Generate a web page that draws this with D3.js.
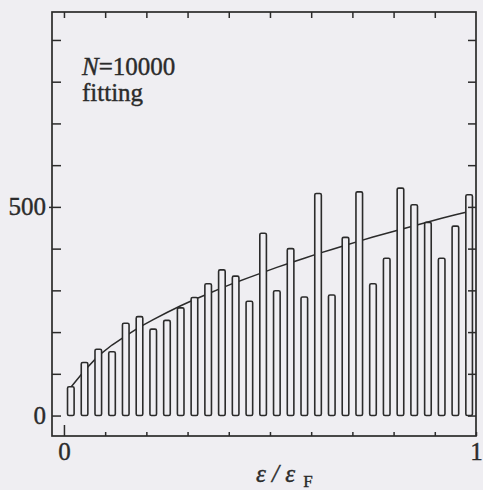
<!DOCTYPE html>
<html>
<head>
<meta charset="utf-8">
<script src="https://cdn.jsdelivr.net/npm/d3@7"></script>
<style>
  body { margin: 0; background: #efeef2; }
  svg { display: block; }
  .serif { font-family: "Liberation Serif", "Times New Roman", serif; fill: #2b2b2b; stroke: #2b2b2b; stroke-width: 0.4px; }
</style>
</head>
<body>
<div id="chart"></div>
<script>
// histogram of levels, 30 bins on 0..1 (eps / eps_F)
var nBins = 30;
var counts = [69, 127, 159, 153, 221, 237, 207, 228, 258, 283,
              316, 349, 334, 274, 437, 299, 400, 284, 532, 289,
              427, 536, 316, 377, 545, 505, 463, 377, 454, 529];
// fitting curve, read at each bin centre
var fitValues = [68, 108, 143, 169, 191, 212, 230, 247, 263, 278,
                 292, 306, 319, 331, 343, 355, 366, 377, 388, 398,
                 408, 418, 428, 437, 446, 455, 464, 473, 481, 489];
var xTicks = [0, 0.1, 0.2, 0.3, 0.4, 0.5, 0.6, 0.7, 0.8, 0.9, 1];
var xLabels = {0: "0", 1: "1"};
var yTicks = [0, 100, 200, 300, 400, 500, 600, 700, 800, 900];
var yLabels = {0: "0", 500: "500"};

var w = 483, h = 490;
var ink = "#2b2b2b";
var bg = "#efeef2";

// plot frame in pixels
var frameL = 52, frameR = 476, frameT = 12, frameB = 436;

var xScale = d3.scaleLinear().domain([-0.029, 1]).range([frameL, frameR]);
var yScale = d3.scaleLinear().domain([-49, 967]).range([frameB, frameT]);

var svg = d3.select("#chart")
  .append("svg")
  .attr("width", w)
  .attr("height", h);

svg.append("rect")
  .attr("width", w).attr("height", h)
  .attr("fill", bg);

// fitting curve goes under the bars
var bins = counts.map(function(c, i) {
  return {x: (i + 0.5) / nBins, count: c, fit: fitValues[i]};
});

var line = d3.line()
  .x(function(d) { return xScale(d.x); })
  .y(function(d) { return yScale(d.fit); });

svg.append("path")
  .datum(bins)
  .attr("d", line)
  .attr("fill", "none")
  .attr("stroke", ink)
  .attr("stroke-width", 1.5);

// narrow outlined bars, roughly half a bin wide
var barW = 0.48 / nBins;
svg.selectAll("rect.bar")
  .data(bins)
  .enter()
  .append("rect")
  .attr("class", "bar")
  .attr("x", function(d) { return xScale(d.x - barW / 2); })
  .attr("y", function(d) { return yScale(d.count); })
  .attr("width", xScale(barW) - xScale(0))
  .attr("height", function(d) { return yScale(0) - yScale(d.count); })
  .attr("rx", 1.5)
  .attr("fill", bg)
  .attr("stroke", ink)
  .attr("stroke-width", 1.6);

// axes, ticks point inward
var fmtX = function(d) { return xLabels[d] || ""; };
var fmtY = function(d) { return yLabels[d] || ""; };

var gBottom = svg.append("g")
  .attr("transform", "translate(0," + frameB + ")")
  .call(d3.axisBottom(xScale).tickValues(xTicks).tickSizeInner(-4).tickSizeOuter(0)
    .tickPadding(6).tickFormat(fmtX));
gBottom.selectAll(".tick line").filter(function(d) { return d === 0; }).attr("y2", -11);

var gTop = svg.append("g")
  .attr("transform", "translate(0," + frameT + ")")
  .call(d3.axisTop(xScale).tickValues(xTicks.slice(0, 10)).tickSizeInner(-6).tickSizeOuter(0)
    .tickFormat(""));

var gLeft = svg.append("g")
  .attr("transform", "translate(" + frameL + ",0)")
  .call(d3.axisLeft(yScale).tickValues(yTicks).tickSizeInner(-9).tickSizeOuter(0)
    .tickPadding(6).tickFormat(fmtY));
gLeft.selectAll(".tick line").filter(function(d) { return d === 500; })
  .attr("x1", -3);

var gRight = svg.append("g")
  .attr("transform", "translate(" + frameR + ",0)")
  .call(d3.axisRight(yScale).tickValues(yTicks).tickSizeInner(-8).tickSizeOuter(0)
    .tickFormat(""));

[gBottom, gTop, gLeft, gRight].forEach(function(g) {
  g.select(".domain").remove();
  g.selectAll(".tick line").attr("stroke", ink).attr("stroke-width", 1.5);
  g.selectAll(".tick text")
    .attr("class", "serif")
    .attr("fill", ink)
    .style("font-size", "25px");
});

// frame
svg.append("rect")
  .attr("x", frameL).attr("y", frameT)
  .attr("width", frameR - frameL).attr("height", frameB - frameT)
  .attr("fill", "none")
  .attr("stroke", ink)
  .attr("stroke-width", 1.7);

// annotations
var t1 = svg.append("text")
  .attr("class", "serif")
  .attr("x", 82).attr("y", 75)
  .style("font-size", "25px");
t1.append("tspan").style("font-style", "italic").text("N");
t1.append("tspan").text("=10000");

svg.append("text")
  .attr("class", "serif")
  .attr("x", 82).attr("y", 101)
  .style("font-size", "25px")
  .text("fitting");

// x axis title
var xt = svg.append("text")
  .attr("class", "serif")
  .attr("x", 256).attr("y", 482)
  .style("font-size", "25px")
  .style("font-style", "italic");
xt.append("tspan").text("ε / ε");
xt.append("tspan")
  .attr("dx", 8).attr("dy", 5)
  .style("font-size", "17px")
  .style("font-style", "normal")
  .text("F");
</script>
</body>
</html>
